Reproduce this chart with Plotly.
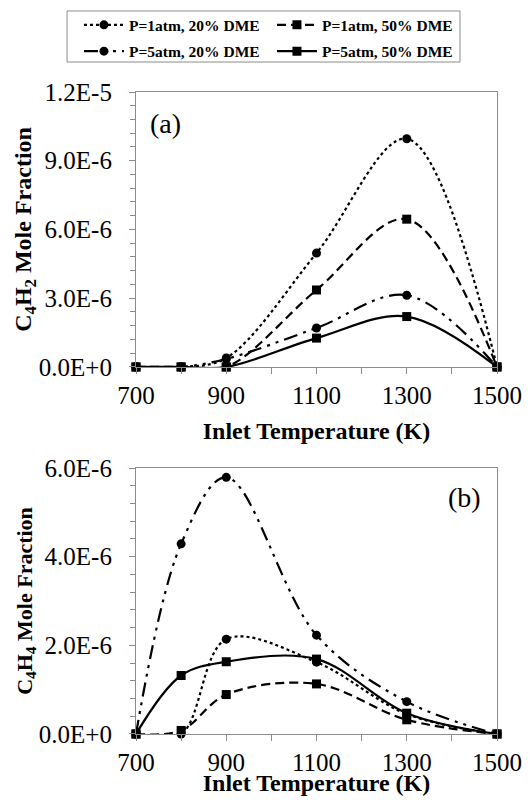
import plotly.graph_objects as go
from plotly.subplots import make_subplots

temps = [700, 800, 900, 1100, 1300, 1500]

# Panel (a): C4H2
a_1atm_20 = [0, 0, 0.39e-6, 4.97e-6, 9.96e-6, 0]
a_1atm_50 = [0, 0, 0.0, 3.36e-6, 6.45e-6, 0]
a_5atm_20 = [0, 0, 0.35e-6, 1.70e-6, 3.13e-6, 0]
a_5atm_50 = [0, 0, 0.0, 1.26e-6, 2.20e-6, 0]

# Panel (b): C4H4
b_1atm_20 = [0, 0.0, 2.14e-6, 1.62e-6, 0.45e-6, 0]
b_1atm_50 = [0, 0.08e-6, 0.89e-6, 1.13e-6, 0.32e-6, 0]
b_5atm_20 = [0, 4.29e-6, 5.79e-6, 2.23e-6, 0.73e-6, 0]
b_5atm_50 = [0, 1.32e-6, 1.63e-6, 1.69e-6, 0.47e-6, 0]

names = ["P=1atm, 20% DME", "P=1atm, 50% DME", "P=5atm, 20% DME", "P=5atm, 50% DME"]
a_series = [a_1atm_20, a_1atm_50, a_5atm_20, a_5atm_50]
b_series = [b_1atm_20, b_1atm_50, b_5atm_20, b_5atm_50]

ticks_a = [0, 3e-6, 6e-6, 9e-6, 1.2e-5]
ticktext_a = ["0.0E+0", "3.0E-6", "6.0E-6", "9.0E-6", "1.2E-5"]
ticks_b = [0, 2e-6, 4e-6, 6e-6]
ticktext_b = ["0.0E+0", "2.0E-6", "4.0E-6", "6.0E-6"]
xticks = [700, 900, 1100, 1300, 1500]

dashes = ["dot", "9px,5px", "14px,6px,3px,6px,3px,6px", "solid"]
symbols = ["circle", "square", "circle", "square"]
legend_rows = ["legend", "legend", "legend2", "legend2"]

fig = make_subplots(rows=2, cols=1, vertical_spacing=0.0)

for i in range(4):
    fig.add_trace(go.Scatter(
        x=temps, y=a_series[i], name=names[i], mode="lines+markers", cliponaxis=False,
        line=dict(color="black", width=2.2, dash=dashes[i], shape="spline", smoothing=1.0),
        marker=dict(symbol=symbols[i], size=9, color="black"),
        legend=legend_rows[i], showlegend=True), row=1, col=1)
for i in range(4):
    fig.add_trace(go.Scatter(
        x=temps, y=b_series[i], name=names[i], mode="lines+markers", cliponaxis=False,
        line=dict(color="black", width=2.2, dash=dashes[i], shape="spline", smoothing=1.0),
        marker=dict(symbol=symbols[i], size=9, color="black"),
        showlegend=False), row=2, col=1)

serif = "Liberation Serif, serif"
tickfont = dict(family=serif, size=25, color="black")
axis_common = dict(showline=True, linecolor="#8c8c8c", linewidth=1.2, mirror=True,
                   showgrid=False, zeroline=False, ticks="outside", ticklen=6,
                   tickcolor="#8c8c8c")

fig.update_xaxes(**axis_common, range=[700, 1500], tickvals=xticks, tickfont=tickfont,
                 minor=dict(tickmode="linear", tick0=700, dtick=100, ticks="outside", ticklen=6, tickcolor="#8c8c8c"),
                 title=dict(text="Inlet Temperature (K)",
                            font=dict(family=serif, size=24, color="black", weight="bold"), standoff=14))
fig.update_yaxes(**axis_common, tickfont=tickfont, ticklabelstandoff=12)

fig.update_yaxes(range=[0, 1.2e-5], tickvals=ticks_a, ticktext=ticktext_a,
                 minor=dict(tickmode="linear", tick0=0, dtick=6e-7, ticks="outside", ticklen=5, tickcolor="#8c8c8c"),
                 title=dict(text="C<sub>4</sub>H<sub>2</sub> Mole Fraction",
                            font=dict(family=serif, size=24, color="black", weight="bold"), standoff=0),
                 row=1, col=1)
fig.update_yaxes(range=[0, 6e-6], tickvals=ticks_b, ticktext=ticktext_b,
                 minor=dict(tickmode="linear", tick0=0, dtick=4e-7, ticks="outside", ticklen=5, tickcolor="#8c8c8c"),
                 title=dict(text="C<sub>4</sub>H<sub>4</sub> Mole Fraction",
                            font=dict(family=serif, size=22, color="black", weight="bold"), standoff=0),
                 row=2, col=1)

legend_style = dict(orientation="h", x=-0.158, xanchor="left", yanchor="middle",
                    entrywidth=138, entrywidthmode="pixels",
                    borderwidth=0, bgcolor="rgba(0,0,0,0)",
                    font=dict(family=serif, size=15.5, color="black", weight="bold"),
                    itemwidth=40)

# page body has an 8px margin, so the figure is 514x788 and offset by 8px
fig.update_layout(
    width=514, height=788,
    font=dict(family=serif, color="black"),
    margin=dict(l=128, r=25, t=84, b=62, autoexpand=False),
    plot_bgcolor="white", paper_bgcolor="white",
    xaxis=dict(domain=[0, 1]),
    yaxis=dict(domain=[0.5717, 1.0]),
    yaxis2=dict(domain=[0.0, 0.4143]),
    legend=dict(**legend_style, y=1.104),
    legend2=dict(**legend_style, y=1.063),
    shapes=[dict(type="rect", xref="paper", yref="paper", x0=-0.191, x1=0.8975, y0=1.0467, y1=1.1262,
                 line=dict(color="#8c8c8c", width=1), layer="below")],
    annotations=[
        dict(text="(a)", x=0.033, y=0.887, xref="x domain", yref="y domain", xanchor="left", yanchor="middle",
             showarrow=False, font=dict(family=serif, size=28, color="black")),
        dict(text="(b)", x=0.961, y=0.891, xref="x2 domain", yref="y2 domain", xanchor="right", yanchor="middle",
             showarrow=False, font=dict(family=serif, size=28, color="black")),
    ],
)

fig.write_html("out.html")
